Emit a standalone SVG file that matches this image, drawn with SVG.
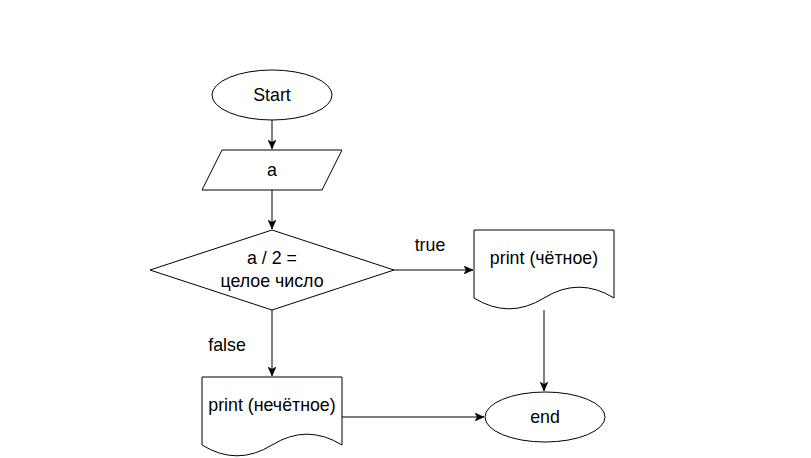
<svg xmlns="http://www.w3.org/2000/svg" width="811" height="458" viewBox="0 0 811 458">
<style>
.s{fill:#fff;stroke:#000;stroke-width:1}
.t{font-family:"Liberation Sans",Arial,sans-serif;font-size:17.8px;fill:#000;text-anchor:middle;dominant-baseline:central}
.e{fill:none;stroke:#000;stroke-width:1}
</style>
<defs>
<marker id="ar" markerWidth="10" markerHeight="8" refX="9" refY="4" orient="auto" markerUnits="userSpaceOnUse">
<path d="M0,0 L9,4 L0,8 L2.2,4 Z" fill="#000" stroke="#000" stroke-width="0.5"/>
</marker>
</defs>
<rect width="811" height="458" fill="#fff"/>
<g id="start">
<ellipse class="s" cx="272" cy="95" rx="60" ry="25"/>
<text class="t" x="272" y="95">Start</text>
</g>
<g id="input">
<polygon class="s" points="222,150 342,150 322,190 202,190"/>
<text class="t" x="272" y="170">a</text>
</g>
<g id="decision">
<polygon class="s" points="272,230 394,270 272,310 150,270"/>
<text class="t" x="272" y="258">a / 2 =</text>
<text class="t" x="272" y="281">целое число</text>
</g>
<g id="even">
<path class="s" d="M474,230 H614 V298 Q579,276.4 544,298 Q509,319.6 474,298 Z"/>
<text class="t" x="544" y="258">print (чётное)</text>
</g>
<g id="odd">
<path class="s" d="M202,377 H342 V445 Q307,423.4 272,445 Q237,466.6 202,445 Z"/>
<text class="t" x="272" y="405">print (нечётное)</text>
</g>
<g id="end">
<ellipse class="s" cx="545" cy="417" rx="60" ry="25"/>
<text class="t" x="545" y="417">end</text>
</g>
<g id="connectors">
<line class="e" x1="272" y1="120" x2="272" y2="149" marker-end="url(#ar)"/>
<line class="e" x1="272" y1="190" x2="272" y2="229" marker-end="url(#ar)"/>
<line class="e" x1="394" y1="270" x2="473" y2="270" marker-end="url(#ar)"/>
<line class="e" x1="272" y1="310" x2="272" y2="376" marker-end="url(#ar)"/>
<line class="e" x1="544" y1="310" x2="544" y2="391" marker-end="url(#ar)"/>
<line class="e" x1="342" y1="417" x2="484" y2="417" marker-end="url(#ar)"/>
<text class="t" x="430" y="245">true</text>
<text class="t" x="227" y="345">false</text>
</g>
</svg>
